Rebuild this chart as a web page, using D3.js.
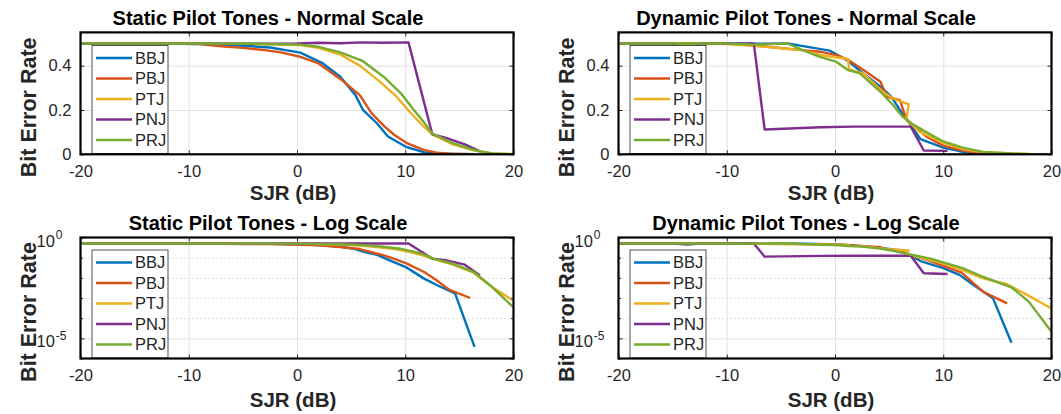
<!DOCTYPE html>
<html><head><meta charset="utf-8">
<script src="https://cdn.jsdelivr.net/npm/d3@7"></script>
<style>body{margin:0;background:#fff} svg{display:block;font-family:"Liberation Sans",Arial,sans-serif}</style>
</head><body><svg id="c" width="1061" height="414"></svg>
<script>
const seriesNames = ["BBJ","PBJ","PTJ","PNJ","PRJ"];
const seriesColors = ["#0072BD","#D95319","#EDB120","#7E2F8E","#77AC30"];
const xTicks = [-20,-10,0,10,20];
const linTicks = [0,0.2,0.4];
const logMajorTicks = [1,1e-5];
const logMinorTicks = [1e-1,1e-2,1e-3,1e-4,1e-6];
const titles = ["Static Pilot Tones - Normal Scale","Dynamic Pilot Tones - Normal Scale",
                "Static Pilot Tones - Log Scale","Dynamic Pilot Tones - Log Scale"];
const xLabel = "SJR (dB)";
const yLabel = "Bit Error Rate";

// Static pilot tones: [SJR dB, BER]
const staticBBJ = [[-20,0.5],[-16,0.5],[-12,0.499],[-8,0.497],[-5,0.49],[-2.5,0.482],[0.3,0.459],[2.4,0.41],[4.0,0.35],[5.4,0.267],[6.1,0.2],[7.4,0.139],[8.4,0.08],[10.1,0.033],[11.7,0.0094],[12.9,0.0044],[14.6,0.0017],[16.4,3.8e-6]];
const staticPBJ = [[-20,0.5],[-16,0.5],[-12,0.5],[-9,0.497],[-7,0.487],[-5,0.48],[-3,0.47],[-1.5,0.46],[0.3,0.44],[2.0,0.41],[4.0,0.34],[5.8,0.267],[6.9,0.185],[8.1,0.125],[9.0,0.087],[10.1,0.052],[11.7,0.02],[12.9,0.0075],[14.1,0.0025],[16.0,0.001]];
const staticPTJ = [[-20,0.5],[-10,0.5],[-4,0.498],[0.3,0.493],[2,0.48],[4,0.45],[5.8,0.40],[7.6,0.33],[9.2,0.26],[10.4,0.192],[11.6,0.13],[12.5,0.09],[14.4,0.045],[16.3,0.018],[18,0.0036],[20,7.3e-4]];
const staticPNJ = [[-20,0.5],[-10,0.5],[-4,0.499],[0,0.5],[2,0.503],[4,0.501],[6,0.505],[8,0.503],[10.3,0.505],[12.5,0.09],[13.7,0.075],[15.5,0.045],[16.9,0.013]];
const staticPRJ = [[-20,0.5],[-10,0.5],[-4,0.499],[0.3,0.495],[2,0.485],[4,0.46],[6.1,0.42],[8,0.35],[9.6,0.275],[10.8,0.2],[11.7,0.146],[12.5,0.093],[14.4,0.05],[16.3,0.02],[18,0.0036],[20,3.4e-4]];

// Dynamic pilot tones: [SJR dB, BER]
const dynamicBBJ = [[-20,0.5],[-10,0.5],[-7.3,0.499],[-4.4,0.5],[-2.8,0.487],[-0.5,0.468],[1.1,0.425],[2.6,0.365],[4.2,0.305],[5.2,0.26],[6.0,0.2],[6.8,0.146],[7.9,0.068],[10.0,0.03],[11.5,0.014],[12.8,0.0044],[14.6,9.6e-4],[16.3,6e-6]];
const dynamicPBJ = [[-20,0.5],[-10,0.5],[-7.3,0.49],[-3,0.47],[-1.4,0.463],[0.3,0.445],[1.4,0.42],[2.8,0.375],[4.2,0.327],[4.8,0.26],[6.0,0.244],[6.6,0.155],[8.5,0.078],[10.0,0.039],[11.7,0.018],[13.7,0.002],[15.9,5.4e-4]];
const dynamicPTJ = [[-20,0.5],[-10,0.497],[-7.3,0.49],[-4.4,0.475],[-3,0.47],[-1.4,0.448],[1.2,0.43],[1.3,0.383],[2.6,0.365],[4.45,0.28],[5.7,0.244],[6.8,0.226],[6.6,0.155],[7.85,0.10],[10,0.052],[11.8,0.024],[13.7,0.0094],[15.9,0.0048],[18,0.0012],[20,3e-4]];
const dynamicPNJ = [[-20,0.5],[-15,0.5],[-13.6,0.45],[-12.5,0.5],[-7.5,0.5],[-6.5,0.112],[-1.3,0.122],[1.7,0.125],[7.0,0.125],[8.2,0.017],[10.4,0.0155]];
const dynamicPRJ = [[-20,0.5],[-10,0.5],[-7.3,0.495],[-4.4,0.5],[-3.2,0.475],[-1.4,0.44],[0.1,0.418],[1.2,0.38],[2.3,0.365],[4.2,0.282],[5.4,0.22],[6.2,0.172],[7.2,0.135],[8.8,0.09],[10,0.058],[11.8,0.03],[13.7,0.011],[16.3,0.0034],[17.9,6.6e-4],[20,2.1e-5]];

const staticData = [staticBBJ, staticPBJ, staticPTJ, staticPNJ, staticPRJ];
const dynamicData = [dynamicBBJ, dynamicPBJ, dynamicPTJ, dynamicPNJ, dynamicPRJ];

const svg = d3.select("#c");
const cols = [[80.5,513.5],[618.5,1051.5]];
const rows = [[32.4,154.3],[237.5,358.5]];
const panels = [
  {title:titles[0], c:0, r:0, log:false, data:staticData},
  {title:titles[1], c:1, r:0, log:false, data:dynamicData},
  {title:titles[2], c:0, r:1, log:true, data:staticData},
  {title:titles[3], c:1, r:1, log:true, data:dynamicData}
];
const tickColor = "#262626";
const gridColor = "#e3e3e3";
const fmt = d => String(d);

panels.forEach((p,i)=>{
  const [x0,x1] = cols[p.c], [y0,y1] = rows[p.r];
  const w = x1-x0, h = y1-y0;
  const x = d3.scaleLinear().domain([-20,20]).range([x0,x1]);
  const y = p.log ? d3.scaleLog().domain([1e-6,1]).range([y1,y0])
                  : d3.scaleLinear().domain([0,0.55]).range([y1,y0]);
  const g = svg.append("g");

  // grid
  const gg = g.append("g");
  gg.append("g").attr("transform",`translate(0,${y1})`)
    .call(d3.axisBottom(x).tickValues([-10,0,10]).tickSize(-h).tickFormat(""));
  if (p.log) {
    gg.append("g").attr("transform",`translate(${x0},0)`)
      .call(d3.axisLeft(y).tickValues([1e-5]).tickSize(-w).tickFormat(""));
    const mg = gg.append("g").attr("class","minor").attr("transform",`translate(${x0},0)`)
      .call(d3.axisLeft(y).tickValues(logMinorTicks.slice(0,4)).tickSize(-w).tickFormat(""));
    mg.selectAll("line").attr("stroke-dasharray","1,3").attr("stroke","#bdbdbd");
  } else {
    gg.append("g").attr("transform",`translate(${x0},0)`)
      .call(d3.axisLeft(y).tickValues([0.2,0.4]).tickSize(-w).tickFormat(""));
  }
  gg.selectAll(".domain").remove();
  gg.selectAll("g:not(.minor) > .tick line").attr("stroke",gridColor).attr("stroke-width",1);

  // clip
  const cid = "clip"+i;
  g.append("clipPath").attr("id",cid).append("rect").attr("x",x0).attr("y",y0).attr("width",w).attr("height",h);

  const line = d3.line().x(d=>x(d[0])).y(d=>y(d[1]));
  const lg = g.append("g").attr("clip-path",`url(#${cid})`);
  p.data.forEach((s,k)=>{
    lg.append("path").attr("d",line(s)).attr("fill","none")
      .attr("stroke",seriesColors[k]).attr("stroke-width",2.4)
      .attr("stroke-linejoin","round").attr("stroke-linecap","butt");
  });

  // legend
  const lx = x0+11.5, ly = p.r===0 ? 45.5 : 250;
  const leg = g.append("g").attr("clip-path",`url(#${cid})`);
  leg.append("rect").attr("x",lx).attr("y",ly).attr("width",76).attr("height",108)
    .attr("fill","#fff").attr("stroke",tickColor).attr("stroke-width",0.8);
  seriesNames.forEach((n,k)=>{
    const yy = ly + 12.5 + k*20.5;
    leg.append("line").attr("x1",lx+4).attr("x2",lx+40).attr("y1",yy).attr("y2",yy)
      .attr("stroke",seriesColors[k]).attr("stroke-width",2.4);
    leg.append("text").attr("x",lx+43).attr("y",yy).attr("dy","0.36em")
      .attr("font-size",16.5).attr("fill",tickColor).text(n);
  });

  // axes ticks
  const ag = g.append("g");
  ag.append("g").attr("transform",`translate(0,${y1})`)
    .call(d3.axisBottom(x).tickValues(xTicks).tickSizeInner(-4).tickSizeOuter(0).tickPadding(11).tickFormat(fmt));
  ag.append("g").attr("transform",`translate(0,${y0})`)
    .call(d3.axisTop(x).tickValues(xTicks).tickSizeInner(-4).tickSizeOuter(0).tickFormat(""));
  if (p.log) {
    const ly_ = ag.append("g").attr("transform",`translate(${x0},0)`)
      .call(d3.axisLeft(y).tickValues(logMajorTicks).tickSizeInner(-4).tickSizeOuter(0).tickPadding(8));
    ly_.selectAll(".tick text").each(function(d){
      const t = d3.select(this);
      const e = Math.round(Math.log10(d));
      t.text("").attr("text-anchor","start").attr("x",-44).attr("dy",null).attr("y",8.5);
      t.append("tspan").text("10");
      t.append("tspan").attr("dx",1).attr("dy",-7.5).attr("font-size",12).text(e===0?"0":"-"+Math.abs(e));
    });
    ag.append("g").attr("transform",`translate(${x1},0)`)
      .call(d3.axisRight(y).tickValues(logMajorTicks).tickSizeInner(-4).tickSizeOuter(0).tickFormat(""));
    ag.append("g").attr("transform",`translate(${x0},0)`)
      .call(d3.axisLeft(y).tickValues(logMinorTicks).tickSizeInner(-2.5).tickSizeOuter(0).tickFormat(""));
    ag.append("g").attr("transform",`translate(${x1},0)`)
      .call(d3.axisRight(y).tickValues(logMinorTicks).tickSizeInner(-2.5).tickSizeOuter(0).tickFormat(""));
  } else {
    ag.append("g").attr("transform",`translate(${x0},0)`)
      .call(d3.axisLeft(y).tickValues(linTicks).tickSizeInner(-4).tickSizeOuter(0).tickPadding(9).tickFormat(fmt));
    ag.append("g").attr("transform",`translate(${x1},0)`)
      .call(d3.axisRight(y).tickValues(linTicks).tickSizeInner(-4).tickSizeOuter(0).tickFormat(""));
  }
  ag.selectAll(".domain").remove();
  ag.selectAll(".tick line").attr("stroke",tickColor);
  ag.selectAll("g").attr("font-family",null).attr("font-size",null);
  ag.selectAll(".tick text").attr("font-size",16.5).attr("fill",tickColor);

  // frame
  g.append("rect").attr("x",x0).attr("y",y0).attr("width",w).attr("height",h)
    .attr("fill","none").attr("stroke","#000").attr("stroke-width",2.2);

  // labels
  g.append("text").attr("x",(x0+x1)/2-29).attr("y",p.r===0?25:229.7).attr("text-anchor","middle")
    .attr("font-size",20).attr("font-weight","bold").attr("fill","#000").text(p.title);
  g.append("text").attr("x",(x0+x1)/2-4).attr("y",p.r===0?200:407).attr("text-anchor","middle")
    .attr("font-size",20.5).attr("font-weight","bold").attr("fill",tickColor).text(xLabel);
  const yc = (y0+y1)/2+14;
  g.append("text").attr("transform",`translate(${x0-45},${yc}) rotate(-90)`).attr("text-anchor","middle")
    .attr("font-size",21.5).attr("font-weight","bold").attr("fill",tickColor).text(yLabel);
});
</script></body></html>
